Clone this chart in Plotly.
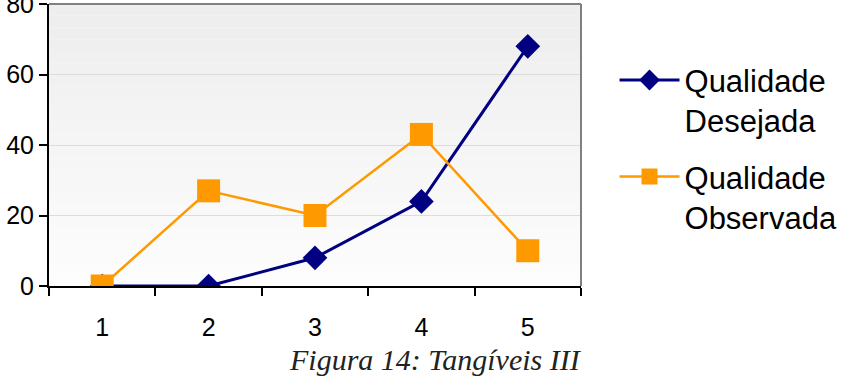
import plotly.graph_objects as go

categories = ["1", "2", "3", "4", "5"]
desejada = [0, 0, 8, 24, 68]
observada = [0, 27, 20, 43, 10]
y_ticks = [0, 20, 40, 60, 80]
series_names = ["Qualidade<br>Desejada", "Qualidade<br>Observada"]
caption = "Figura 14: Tangíveis III"

fig = go.Figure()
fig.add_trace(go.Scatter(
    x=categories, y=desejada, name=series_names[0], mode="lines+markers",
    legendgroup="a",
    line=dict(color="#000080", width=3),
    marker=dict(symbol="diamond", size=19, color="#000080"),
))
fig.add_trace(go.Scatter(
    x=categories, y=observada, name=series_names[1], mode="lines+markers",
    legendgroup="b",
    line=dict(color="#FF9900", width=2.5),
    marker=dict(symbol="square", size=23, color="#FF9900"),
))

# subtle vertical gradient background
n = 24
for i in range(n):
    t = i / (n - 1)
    c = int(238 + (253 - 238) * t)
    fig.add_shape(type="rect", xref="x domain", yref="y domain",
                  x0=0, x1=1, y0=1 - (i + 1) / n, y1=1 - i / n,
                  fillcolor=f"rgb({c},{c},{c})", line=dict(width=0), layer="below")

# frame top/right
fig.add_shape(type="line", xref="x domain", yref="y domain", x0=0, x1=1, y0=1, y1=1,
              line=dict(color="#808080", width=2))
fig.add_shape(type="line", xref="x domain", yref="y domain", x0=1, x1=1, y0=0, y1=1,
              line=dict(color="#808080", width=2))

font = "Liberation Sans, Arial, sans-serif"
fig.update_layout(
    width=848, height=377,
    margin=dict(l=49, r=267, t=4, b=91, autoexpand=False),
    paper_bgcolor="white", plot_bgcolor="rgba(0,0,0,0)",
    font=dict(family=font, size=25, color="black"),
    showlegend=True,
    legend=dict(x=1.063, y=0.825, xanchor="left", yanchor="top",
                font=dict(size=31, family=font), valign="top",
                traceorder="grouped", tracegroupgap=13,
                itemwidth=60, bgcolor="rgba(0,0,0,0)"),
    xaxis=dict(type="category", tickson="boundaries", ticks="outside", ticklen=8,
               tickcolor="black", tickwidth=2, showline=True, linecolor="black", linewidth=2,
               showgrid=False, range=[-0.5, 4.5], tickfont=dict(size=25),
               ticklabelstandoff=18, automargin=False),
    yaxis=dict(range=[0, 80], tickvals=y_ticks, ticks="outside", ticklen=8,
               tickcolor="black", tickwidth=2, showline=True, linecolor="black", linewidth=2,
               showgrid=True, gridcolor="#dcdcdc", gridwidth=1, zeroline=False,
               tickfont=dict(size=25), ticklabeloverflow="allow", ticklabelstandoff=0,
               automargin=False),
    annotations=[dict(text=f"<i>{caption}</i>", xref="paper", yref="paper",
                      x=(435 - 49) / 532, y=-(341 - 286) / 282, xanchor="center", yanchor="top",
                      showarrow=False, font=dict(family="Liberation Serif, Times New Roman, serif",
                                                 size=30, color="#222"))],
)

fig.write_html("out.html")
